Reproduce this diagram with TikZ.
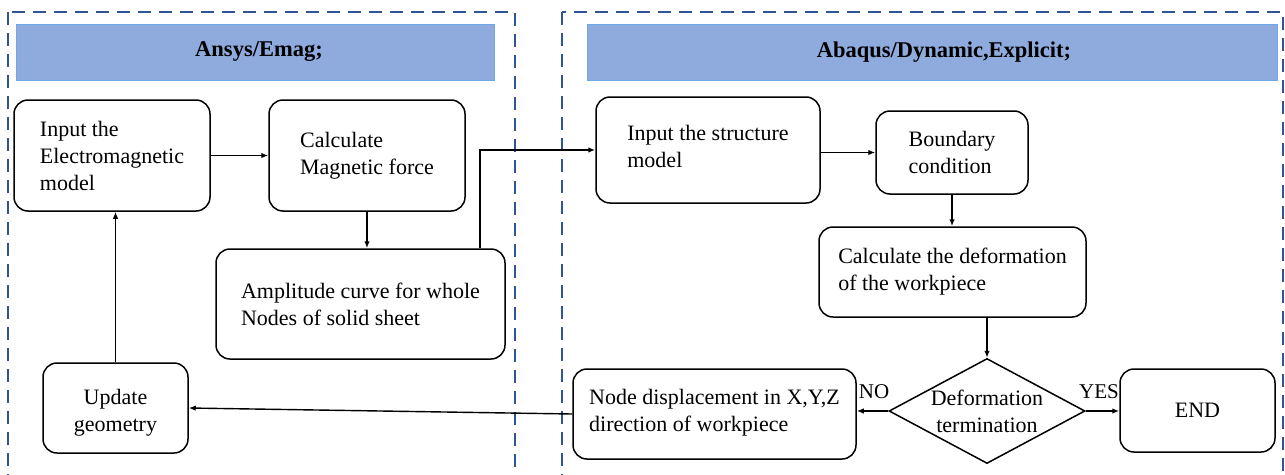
\documentclass[tikz,border=0pt]{standalone}
\usepackage{fontspec}
\setmainfont{Liberation Serif}
\usetikzlibrary{shapes.geometric,arrows.meta}
\definecolor{dashblue}{HTML}{2F5597}
\definecolor{headfill}{HTML}{8FAADC}
\definecolor{headedge}{HTML}{6FA8E8}
\begin{document}
\begin{tikzpicture}[x=1pt,y=-1pt,
  frame/.style={draw=dashblue,line width=1.8pt,dash pattern=on 13pt off 8pt},
  headbar/.style={fill=headfill,draw=headedge,line width=0.8pt},
  headtext/.style={font=\fontsize{22.5}{27}\selectfont\bfseries},
  flowbox/.style={draw,line width=1.5pt,rounded corners=14pt,align=left,inner sep=0pt,
    font=\fontsize{22}{27}\selectfont},
  decide/.style={draw,line width=1.5pt,diamond,aspect=1.87,inner sep=0pt,align=center,
    font=\fontsize{22}{27}\selectfont},
  lbl/.style={font=\fontsize{21}{25}\selectfont,inner sep=0pt},
  arr/.style={line width=1.4pt,-{Latex[length=7pt,width=5.5pt]}}]
\useasboundingbox (0,0) rectangle (1285,474);
\fill[white] (0,0) rectangle (1285,474);
% frames
\draw[frame] (8,12) rectangle (515,490);
\draw[frame] (562,12) rectangle (1283,490);
% headers
\draw[headbar] (16,24) rectangle (494,80);
\node[headtext] (h1) at (259,52) {Ansys/Emag;};
\draw[headbar] (587,24) rectangle (1277,80);
\node[headtext] (h2) at (944,52) {Abaqus/Dynamic,Explicit;};
% boxes
\node[flowbox,minimum width=196pt,minimum height=111pt] (iem) at (112,155.5) {Input the\\Electromagnetic\\model};
\node[flowbox,minimum width=196pt,minimum height=111pt] (cmf) at (367,155.5) {Calculate\\Magnetic force};
\node[flowbox,minimum width=289pt,minimum height=110pt] (amp) at (360.5,304) {Amplitude curve for whole\\Nodes of solid sheet};
\node[flowbox,align=center,minimum width=145pt,minimum height=90pt] (ug) at (115.5,408) {\mbox{}\\[-2pt]Update\\geometry};
\node[flowbox,minimum width=224pt,minimum height=106pt] (ism) at (708,150) {Input the structure\\model\\[-19pt]\mbox{}};
\node[flowbox,minimum width=152pt,minimum height=83pt] (bc) at (952,152.5) {Boundary\\condition};
\node[flowbox,minimum width=267pt,minimum height=90pt] (cd) at (952.5,272) {Calculate the deformation\\of the workpiece};
\node[decide,minimum width=196pt,minimum height=105pt] (dia) at (987,411) {Deformation\\termination};
\node[flowbox,minimum width=283pt,minimum height=90pt] (nd) at (714.5,414) {Node displacement in X,Y,Z\\direction of workpiece\\[-19pt]\mbox{}};
\node[flowbox,align=center,minimum width=155pt,minimum height=83pt] (end) at (1197.5,410.5) {END};
% labels
\node[lbl] (no) at (874,392) {NO};
\node[lbl] (yes) at (1099,392) {YES};
% connectors
\coordinate (j) at (480,149);
\draw[arr] (iem.east) -- (cmf.west);
\draw[arr] (cmf.south) -- (cmf.south |- amp.north);
\draw[arr] (amp.north -| j) -- (j) -- (j |- ism.west) -- (ism.west);
\draw[arr] (ism.east |- bc.west) -- (bc.west);
\draw[arr] (bc.south) -- (bc.south |- cd.north);
\draw[arr] (dia.north |- cd.south) -- (dia.north);
\draw[arr] (dia.west) -- (dia.west -| nd.east);
\draw[arr] (dia.east) -- (dia.east -| end.west);
\draw[arr] (nd.west) -- (ug.east);
\draw[arr] (ug.north) -- (ug.north |- iem.south);
\end{tikzpicture}
\end{document}
